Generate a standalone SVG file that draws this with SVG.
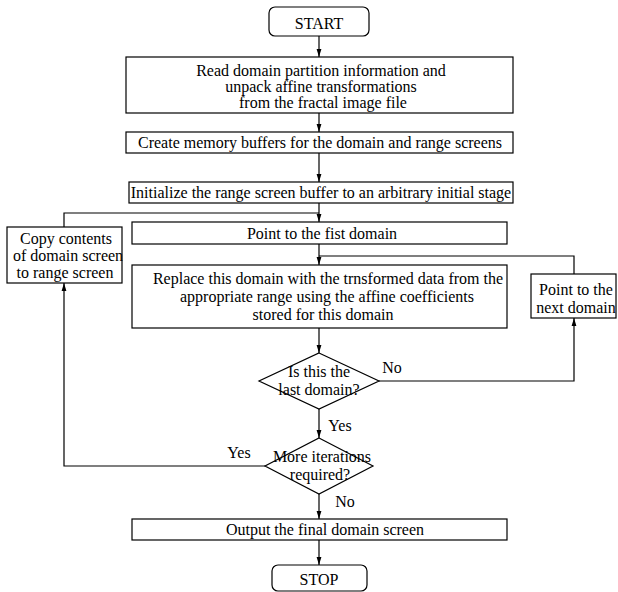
<svg xmlns="http://www.w3.org/2000/svg" width="618" height="592" viewBox="0 0 618 592">
<style>
.box{fill:#fff;stroke:#000;stroke-width:1.2}
.ln{fill:none;stroke:#000;stroke-width:1.2}
text{font-family:"Liberation Serif","Times New Roman",serif;font-size:16px;fill:#000;text-anchor:middle}
</style>
<defs>
<marker id="ah" viewBox="0 0 8 6" refX="8" refY="3" markerWidth="8" markerHeight="6" markerUnits="userSpaceOnUse" orient="auto">
<path d="M0,0.6 L8,3 L0,5.4 Z" fill="#000"/>
</marker>
</defs>
<g id="connectors">
<line class="ln" x1="319" y1="36" x2="319" y2="57" marker-end="url(#ah)"/>
<line class="ln" x1="319" y1="113" x2="319" y2="132" marker-end="url(#ah)"/>
<line class="ln" x1="319" y1="153" x2="319" y2="182" marker-end="url(#ah)"/>
<line class="ln" x1="319" y1="203" x2="319" y2="222" marker-end="url(#ah)"/>
<polyline class="ln" points="64,227 64,213 319,213"/>
<line class="ln" x1="319" y1="244" x2="319" y2="265" marker-end="url(#ah)"/>
<polyline class="ln" points="319,256 574,256 574,274"/>
<line class="ln" x1="319" y1="328" x2="319" y2="353" marker-end="url(#ah)"/>
<polyline class="ln" points="379,381 574,381 574,318" marker-end="url(#ah)"/>
<line class="ln" x1="319" y1="409" x2="319" y2="438" marker-end="url(#ah)"/>
<polyline class="ln" points="265,466 64,466 64,283" marker-end="url(#ah)"/>
<line class="ln" x1="319" y1="494" x2="319" y2="519" marker-end="url(#ah)"/>
<line class="ln" x1="319" y1="540" x2="319" y2="565" marker-end="url(#ah)"/>
</g>
<g id="start">
<rect class="box" x="269" y="7" width="100" height="29" rx="6"/>
<text x="319" y="29">START</text>
</g>
<g id="read">
<rect class="box" x="126" y="57" width="387" height="56"/>
<text x="321" y="76">Read domain partition information and</text>
<text x="321" y="92">unpack affine transformations</text>
<text x="323" y="108">from the fractal image file</text>
</g>
<g id="create">
<rect class="box" x="126" y="132" width="387" height="21"/>
<text x="320" y="148">Create memory buffers for the domain and range screens</text>
</g>
<g id="init">
<rect class="box" x="129" y="182" width="384" height="21"/>
<text x="321" y="198">Initialize the range screen buffer to an arbitrary initial stage</text>
</g>
<g id="copy">
<rect class="box" x="7" y="227" width="115" height="56"/>
<text x="66" y="244">Copy contents</text>
<text x="68" y="261">of domain screen</text>
<text x="65" y="278">to range screen</text>
</g>
<g id="first">
<rect class="box" x="132" y="222" width="375" height="22"/>
<text x="322" y="239">Point to the fist domain</text>
</g>
<g id="replace">
<rect class="box" x="132" y="265" width="375" height="63"/>
<text x="328" y="284">Replace this domain with the trnsformed data from the</text>
<text x="327" y="302">appropriate range using the affine coefficients</text>
<text x="323" y="320">stored for this domain</text>
</g>
<g id="next">
<rect class="box" x="531" y="274" width="85" height="44"/>
<text x="576" y="295">Point to the</text>
<text x="576" y="313">next domain</text>
</g>
<g id="last">
<polygon class="box" points="319,353 379,381 319,409 259,381"/>
<text x="319" y="377">Is this the</text>
<text x="319" y="395">last domain?</text>
</g>
<text x="392" y="373">No</text>
<text x="340" y="431">Yes</text>
<g id="more">
<polygon class="box" points="319,438 373,466 319,494 265,466"/>
<text x="322" y="462">More iterations</text>
<text x="320" y="480">required?</text>
</g>
<text x="239" y="458">Yes</text>
<text x="345" y="507">No</text>
<g id="output">
<rect class="box" x="132" y="519" width="375" height="21"/>
<text x="325" y="535">Output the final domain screen</text>
</g>
<g id="stop">
<rect class="box" x="272" y="565" width="95" height="26" rx="6"/>
<text x="319" y="585">STOP</text>
</g>
</svg>
